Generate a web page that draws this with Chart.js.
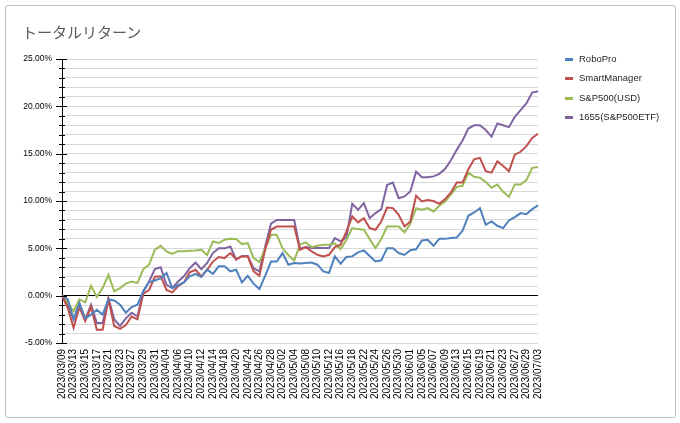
<!DOCTYPE html>
<html>
<head>
<meta charset="utf-8">
<script src="https://cdn.jsdelivr.net/npm/chart.js@4.4.0/dist/chart.umd.min.js"></script>
<style>
  html, body { margin: 0; padding: 0; background: #ffffff; }
  #wrap { position: relative; width: 680px; height: 423px; overflow: hidden; }
  #frame { position: absolute; left: 5px; top: 5px; width: 669px; height: 411px; border: 1px solid #bdbdbd; border-radius: 3px; }
  #title { position: absolute; left: 22px; top: 21px; font-family: "Noto Sans CJK JP", sans-serif; font-size: 15px; color: #595959; white-space: nowrap; }
  #legend { position: absolute; left: 565px; top: 52px; font-family: "Liberation Sans", Arial, sans-serif; font-size: 9.5px; color: #262626; }
  .item { position: relative; height: 19.3px; white-space: nowrap; }
  .mark { position: absolute; left: 0; top: 6px; width: 8px; height: 3px; }
  .txt { position: absolute; left: 14px; top: 1px; }
  canvas { position: absolute; left: 0; top: 0; }
</style>
</head>
<body>
<div id="wrap">
  <div id="frame"></div>
  <canvas id="c" width="680" height="423"></canvas>
  <div id="title">トータルリターン</div>
  <div id="legend"></div>
</div>
<script>
const dates = [
  "2023/03/09","2023/03/10","2023/03/13","2023/03/14","2023/03/15","2023/03/16","2023/03/17","2023/03/20","2023/03/21","2023/03/22",
  "2023/03/23","2023/03/24","2023/03/27","2023/03/28","2023/03/29","2023/03/30","2023/03/31","2023/04/03","2023/04/04","2023/04/05",
  "2023/04/06","2023/04/07","2023/04/10","2023/04/11","2023/04/12","2023/04/13","2023/04/14","2023/04/17","2023/04/18","2023/04/19",
  "2023/04/20","2023/04/21","2023/04/24","2023/04/25","2023/04/26","2023/04/27","2023/04/28","2023/05/01","2023/05/02","2023/05/03",
  "2023/05/04","2023/05/05","2023/05/08","2023/05/09","2023/05/10","2023/05/11","2023/05/12","2023/05/15","2023/05/16","2023/05/17",
  "2023/05/18","2023/05/19","2023/05/22","2023/05/23","2023/05/24","2023/05/25","2023/05/26","2023/05/29","2023/05/30","2023/05/31",
  "2023/06/01","2023/06/02","2023/06/05","2023/06/06","2023/06/07","2023/06/08","2023/06/09","2023/06/12","2023/06/13","2023/06/14",
  "2023/06/15","2023/06/16","2023/06/19","2023/06/20","2023/06/21","2023/06/22","2023/06/23","2023/06/26","2023/06/27","2023/06/28",
  "2023/06/29","2023/06/30","2023/07/03"
];

const roboPro = [
  0,-0.4,-2.5,-0.8,-2.4,-2.0,-1.5,-2.0,-0.4,-0.5,
  -0.95,-1.8,-1.2,-0.95,0.45,1.44,1.6,1.85,2.4,0.8,
  1.1,1.4,2.04,2.3,1.97,2.74,2.3,3.1,3.1,2.57,
  2.74,1.4,2.1,1.27,0.7,2.1,3.6,3.6,4.5,3.27,
  3.45,3.4,3.45,3.5,3.27,2.57,2.4,4.15,3.38,4.08,
  4.15,4.57,4.78,4.2,3.62,3.73,5.0,5.0,4.5,4.3,
  4.8,4.9,5.84,5.9,5.27,6.0,6.0,6.08,6.15,6.85,
  8.44,8.79,9.25,7.49,7.84,7.38,7.14,7.95,8.3,8.72,
  8.6,9.14,9.53
];

const smartManager = [
  0,-1.3,-3.4,-1.2,-2.7,-1.2,-3.6,-3.6,-0.4,-3.2,
  -3.5,-3.1,-2.2,-2.5,0.2,0.6,2.0,2.05,0.6,0.35,
  1.0,1.4,2.46,2.74,2.04,2.74,3.6,4.08,3.97,4.5,
  3.87,4.15,4.15,2.57,2.1,4.85,6.96,7.3,7.3,7.3,
  7.3,4.85,5.13,4.68,4.32,4.15,4.32,5.13,5.38,6.79,
  8.37,7.74,8.19,7.14,6.96,7.84,9.3,9.25,8.54,7.31,
  7.84,10.55,9.95,10.1,10.0,9.7,10.2,10.9,11.95,11.95,
  13.36,14.4,14.56,13.15,13.0,14.2,13.7,13.15,14.9,15.2,
  15.8,16.67,17.1
];

const sp500usd = [
  0,-0.77,-1.65,-0.4,-0.7,1.05,-0.14,0.8,2.2,0.45,
  0.8,1.27,1.5,1.33,2.8,3.27,4.85,5.27,4.68,4.4,
  4.7,4.68,4.75,4.78,4.85,4.3,5.73,5.56,5.9,6.0,
  5.98,5.45,5.56,3.97,3.55,5.0,6.43,6.43,5.0,4.3,
  3.7,5.4,5.63,5.13,5.27,5.38,5.38,5.49,4.92,5.9,
  7.14,7.03,6.96,5.98,5.03,5.98,7.31,7.31,7.31,6.68,
  7.6,9.25,9.07,9.25,8.9,9.5,9.95,10.7,11.5,11.6,
  13.0,12.55,12.45,12.0,11.4,11.74,10.97,10.44,11.74,11.74,
  12.2,13.5,13.6
];

const etf1655 = [
  0,-0.95,-2.5,-0.8,-2.5,-0.95,-2.9,-2.9,-0.25,-2.5,
  -3.2,-2.4,-1.8,-2.2,0.45,1.5,2.8,3.0,1.15,0.8,
  1.5,2.04,2.9,3.5,2.8,3.45,4.5,5.0,5.0,5.2,
  3.8,4.2,4.2,2.9,2.57,5.2,7.6,8.0,8.0,8.0,
  8.0,4.95,5.13,5.03,5.03,5.03,5.03,6.08,5.73,6.19,
  9.7,9.07,9.77,8.19,8.72,9.14,11.7,11.95,10.3,10.48,
  11.0,13.1,12.5,12.5,12.6,12.87,13.4,14.3,15.4,16.4,
  17.65,18.0,18.0,17.5,16.8,18.2,18.0,17.8,18.9,19.6,
  20.3,21.45,21.6
];

const seriesNames = ["RoboPro", "SmartManager", "S&P500(USD)", "1655(S&P500ETF)"];
const seriesColors = ["#4F81BD", "#C0504D", "#9BBB59", "#8064A2"];
const seriesValues = [roboPro, smartManager, sp500usd, etf1655];

const yMin = -5, yMax = 25, yStep = 1, yLabelEvery = 5;

// HTML legend
const legendEl = document.getElementById('legend');
seriesNames.forEach((n, i) => {
  const d = document.createElement('div');
  d.className = 'item';
  const m = document.createElement('div');
  m.className = 'mark';
  m.style.background = seriesColors[i];
  const t = document.createElement('div');
  t.className = 'txt';
  t.textContent = n;
  d.appendChild(m); d.appendChild(t);
  legendEl.appendChild(d);
});

const yTickMarks = {
  id: 'yTickMarks',
  afterDraw(chart) {
    const s = chart.scales.y;
    const x = chart.chartArea.left;
    const ctx = chart.ctx;
    ctx.save();
    ctx.strokeStyle = '#000';
    ctx.lineWidth = 1;
    for (let v = yMin; v <= yMax; v += yStep) {
      const y = Math.round(s.getPixelForValue(v)) + 0.5;
      const major = v % yLabelEvery === 0;
      ctx.beginPath();
      ctx.moveTo(x - (major ? 6 : 3), y);
      ctx.lineTo(x + (major ? 5 : 3), y);
      ctx.stroke();
    }
    ctx.restore();
  }
};

new Chart(document.getElementById('c'), {
  type: 'line',
  data: {
    labels: dates,
    datasets: seriesNames.map((n, i) => ({
      label: n,
      data: seriesValues[i],
      borderColor: seriesColors[i],
      backgroundColor: seriesColors[i],
      borderWidth: 2,
      pointRadius: 0,
      tension: 0,
      fill: false
    }))
  },
  options: {
    responsive: false,
    animation: false,
    devicePixelRatio: 1,
    layout: { padding: { left: 10, top: 59, right: 142, bottom: 10 } },
    plugins: { legend: { display: false }, title: { display: false }, tooltip: { enabled: false } },
    scales: {
      x: {
        type: 'category',
        offset: false,
        grid: { display: false, drawTicks: false },
        border: { display: false },
        ticks: {
          autoSkip: false,
          maxRotation: 90,
          minRotation: 90,
          padding: 6,
          color: '#000',
          font: { family: 'Liberation Sans', size: 10 },
          callback: function(v, i) { return i % 2 === 0 ? dates[i] : ''; }
        },
        afterFit: function(s) { s.height = 70; }
      },
      y: {
        min: yMin,
        max: yMax,
        grid: {
          drawTicks: false,
          color: function(c) { return c.tick && c.tick.value === 0 ? '#000000' : '#d9d9d9'; },
          lineWidth: 1
        },
        border: { display: true, color: '#000', width: 1 },
        ticks: {
          stepSize: yStep,
          autoSkip: false,
          padding: 10,
          color: '#000',
          font: { family: 'Liberation Sans', size: 8.5 },
          callback: function(v) { return v % yLabelEvery === 0 ? v.toFixed(2) + '%' : ''; }
        },
        afterFit: function(s) { s.width = 52; }
      }
    }
  },
  plugins: [yTickMarks]
});
</script>
</body>
</html>
